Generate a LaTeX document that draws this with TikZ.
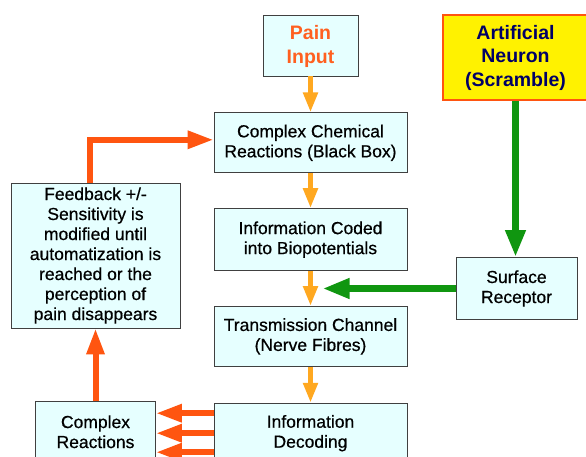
\documentclass[tikz,border=0pt]{standalone}
\usepackage{fontspec}
\setmainfont{Liberation Sans}
\newfontfamily\boxfont[FakeBold=0.6]{Liberation Sans}
\usetikzlibrary{arrows.meta, positioning, calc}

\definecolor{boxfill}{RGB}{230,255,255}
\definecolor{boxline}{RGB}{64,64,64}
\definecolor{flow}{RGB}{255,168,32}
\definecolor{loopback}{RGB}{255,85,16}
\definecolor{signal}{RGB}{16,150,16}
\definecolor{navytext}{RGB}{0,0,102}
\definecolor{paintext}{RGB}{255,96,32}

\begin{document}
\begin{tikzpicture}[x=1pt, y=-1pt, node distance=35pt,
        stage/.style={draw=boxline, fill=boxfill, line width=0.8pt, align=center,
            inner sep=0pt, font=\boxfont\fontsize{17.5}{20}\selectfont},
        stage wide/.style={stage, minimum width=193pt, minimum height=60pt},
        title font/.style={font=\fontsize{19.5}{23.5}\selectfont\bfseries},
        flow arrow/.style={-{Triangle[width=14pt, length=20pt]}, line width=5.5pt, flow},
        loop arrow/.style={-{Triangle[width=17pt, length=26pt]}, line width=6pt, loopback},
        signal arrow/.style={-{Triangle[width=19pt, length=27pt]}, line width=7pt, signal}]

    \useasboundingbox (0,0) rectangle (586,457);

    % main chain
    \node[stage, title font, minimum width=95pt, minimum height=61pt, text=paintext]
        (pain) at (310.5,45.5) {\rule{0pt}{16pt}Pain\\Input};
    \node[stage wide, below=36pt of pain] (chem) {Complex Chemical\\Reactions (Black Box)};
    \node[stage wide, minimum height=62pt, below=of chem] (coded) {Information Coded\\into Biopotentials};
    \node[stage wide, below=of coded] (trans) {Transmission Channel\\(Nerve Fibres)};
    \node[stage wide, below=36pt of trans] (decode) {Information\\Decoding};

    % artificial input
    \coordinate (merge) at ($(coded.south)!0.5!(trans.north)$);
    \coordinate (tip) at ([xshift=12pt]merge);
    \node[stage, minimum width=121pt, minimum height=62pt] (receptor) at ([xshift=206pt]merge) {Surface\\Receptor};
    \node[draw=loopback, fill=yellow, line width=2pt, align=center, inner sep=0pt, title font,
        text=navytext, minimum width=145pt, minimum height=85pt]
        (neuron) at (515.5,57.5) {Artificial\\Neuron\\(Scramble)};

    % feedback side
    \node[stage, minimum width=169pt, minimum height=145pt] (feedback) at (95.5,255.5)
        {Feedback +/-\\Sensitivity is\\modified until\\automatization is\\reached or the\\perception of\\pain disappears};
    \node[stage, minimum width=120pt, minimum height=60pt, below=73pt of feedback] (reactions) {Complex\\Reactions};

    % arrows
    \draw[flow arrow] (pain) -- (chem);
    \draw[flow arrow] (chem) -- (coded);
    \draw[flow arrow] (coded) -- (trans);
    \draw[flow arrow] (trans) -- (decode);

    \draw[signal arrow] (neuron.south) -- (neuron.south |- receptor.north);
    \draw[signal arrow] (receptor) -- (tip);

    \draw[loop arrow] ([xshift=-5.5pt]feedback.north) |- ([yshift=3pt]chem.west);
    \draw[loop arrow] (reactions) -- (feedback);
    \foreach \dy in {-20,0,19} {
        \draw[loop arrow] ($(decode.west)+(0,\dy)$) -- ($(reactions.east |- decode.west)+(0,\dy)$);
    }
\end{tikzpicture}
\end{document}
